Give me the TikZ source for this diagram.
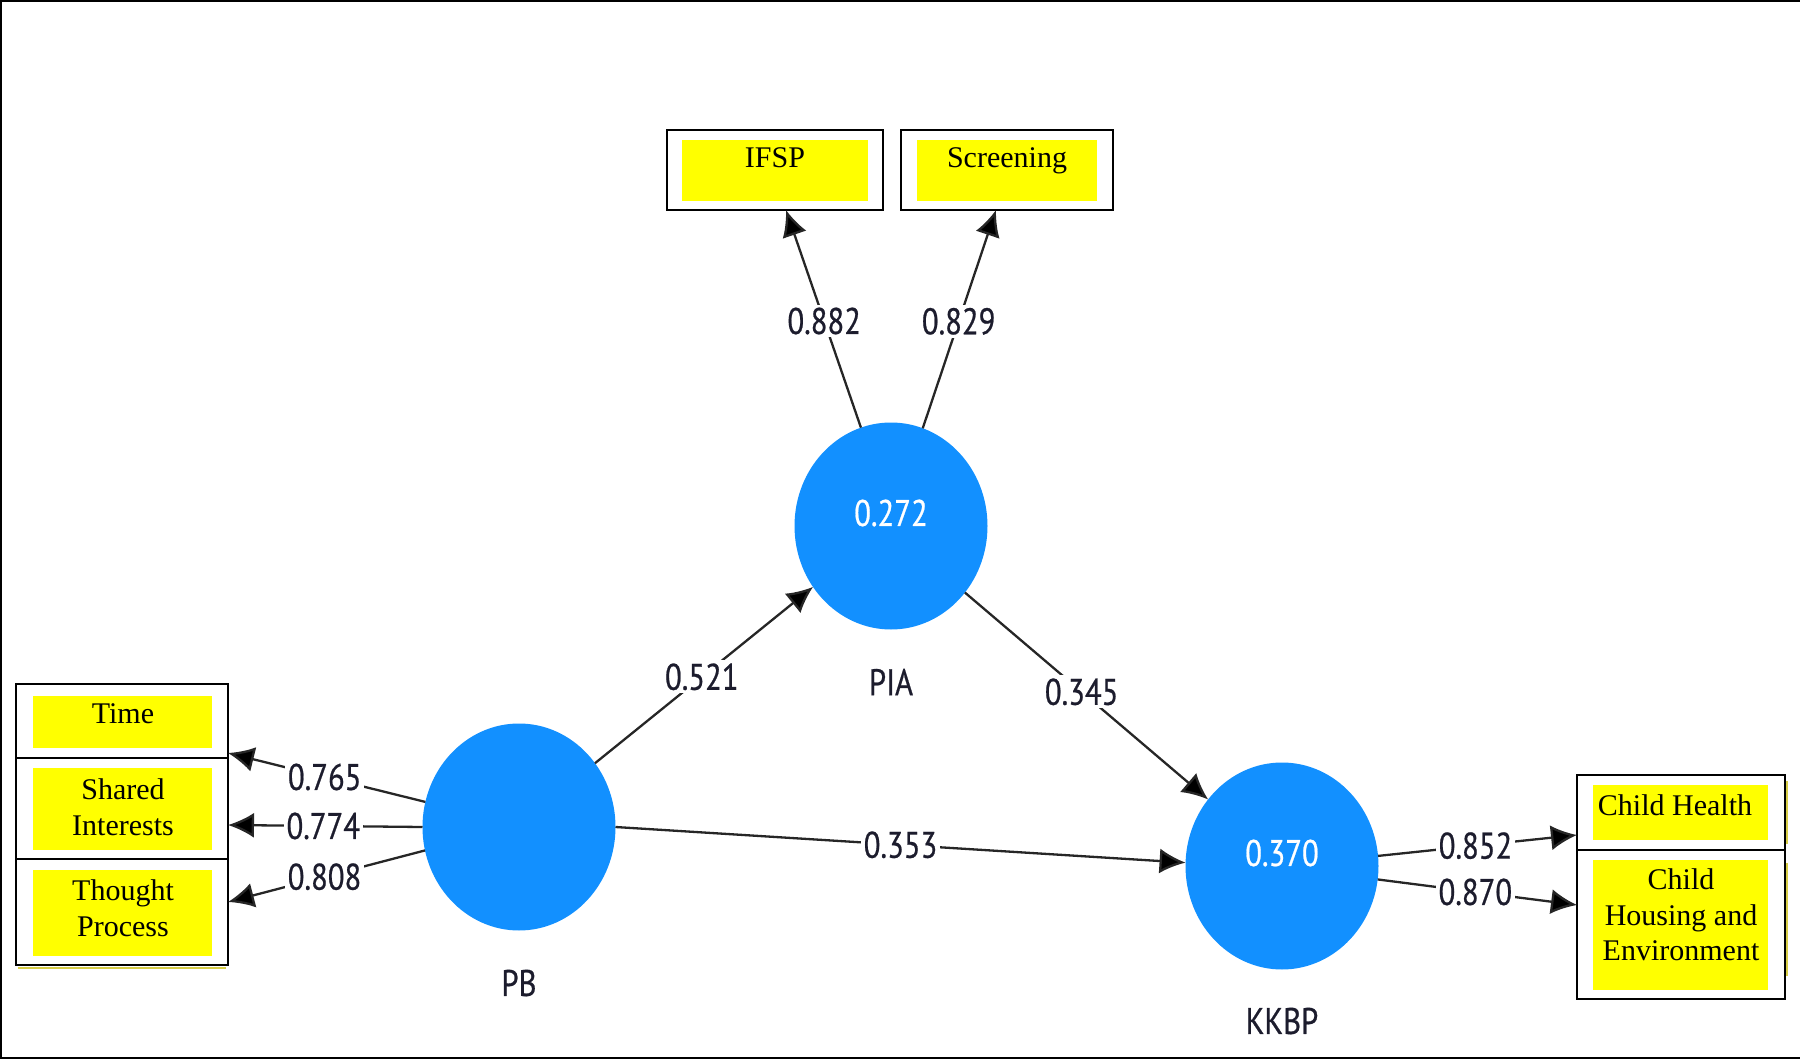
\documentclass[tikz,border=0pt]{standalone}
\usepackage{fontspec}
\setmainfont{Liberation Serif}
\newfontfamily\numfont[FakeStretch=0.83,FakeBold=0.6]{PT Sans}
\usetikzlibrary{shapes.geometric,arrows.meta}
\definecolor{lvblue}{RGB}{18,144,255}
\definecolor{boxyellow}{RGB}{255,255,0}
\definecolor{numcol}{RGB}{28,28,45}
\definecolor{edgeyellow}{RGB}{215,205,70}
\begin{document}
\begin{tikzpicture}[x=1pt,y=-1pt,
  latent/.style={ellipse, fill=lvblue, draw=none, minimum width=193pt, minimum height=207pt, inner sep=0pt, outer sep=0pt},
  lvval/.style={font=\numfont\fontsize{37}{42}\selectfont, text=white, inner sep=0pt},
  frame/.style={draw=black, line width=2.2pt, inner sep=0pt, outer sep=0pt},
  ybox/.style={fill=boxyellow, inner sep=0pt},
  btext/.style={font=\fontsize{30}{35.6}\selectfont, align=center, inner sep=0pt},
  coef/.style={font=\numfont\fontsize{37}{42}\selectfont, text=numcol, fill=white, inner sep=3pt},
  lvname/.style={font=\numfont\fontsize{37}{42}\selectfont, text=numcol, inner sep=0pt},
  link/.style={draw=black!85, line width=2.3pt, -{Latex[length=26pt,width=25pt,fill=black]}},
  strip/.style={draw=edgeyellow, line width=2pt}
]
\useasboundingbox (0,0) rectangle (1800,1059);
% outer frame
\draw[line width=2pt] (1800,1) -- (1,1) -- (1,1058) -- (1800,1058);

% latent variables
\node[latent] (PIA) at (891,526) {};
\node[latent] (PB) at (519,827) {};
\node[latent] (KKBP) at (1282,866) {};
\node[lvval] (PIAv) at (891,513) {0.272};
\node[lvval] (KKBPv) at (1282,853) {0.370};
\node[lvname] (PIAn) at (891,682) {PIA};
\node[lvname] (PBn) at (519,983) {PB};
\node[lvname] (KKBPn) at (1282,1021) {KKBP};

% top indicators
\node[frame, minimum width=216pt, minimum height=80pt] (IFSPf) at (775,170) {};
\node[ybox, minimum width=186pt, minimum height=61pt] (IFSPy) at (775,170.5) {};
\node[btext, anchor=base] (IFSPt) at (775,168) {IFSP};
\node[frame, minimum width=212pt, minimum height=80pt] (SCRf) at (1007,170) {};
\node[ybox, minimum width=180pt, minimum height=61pt] (SCRy) at (1007,170.5) {};
\node[btext, anchor=base] (SCRt) at (1007,168) {Screening};

% left indicators
\node[frame, minimum width=212pt, minimum height=74pt] (TIMf) at (122,721) {};
\node[frame, minimum width=212pt, minimum height=101pt] (SHAf) at (122,808.5) {};
\node[frame, minimum width=212pt, minimum height=106pt] (THOf) at (122,912) {};
\node[ybox, minimum width=179pt, minimum height=52pt] (TIMy) at (122.5,722) {};
\node[ybox, minimum width=179pt, minimum height=82pt] (SHAy) at (122.5,809) {};
\node[ybox, minimum width=179pt, minimum height=86pt] (THOy) at (122.5,913) {};
\node[btext, anchor=base] (TIMt) at (123,723) {Time};
\node[btext] (SHAt) at (123,807) {Shared\\Interests};
\node[btext] (THOt) at (123,908) {Thought\\Process};

% right indicators
\node[frame, minimum width=208pt, minimum height=75pt] (CHf) at (1681,812.5) {};
\node[frame, minimum width=208pt, minimum height=149pt] (CHEf) at (1681,924.5) {};
\node[ybox, minimum width=175pt, minimum height=55pt] (CHy) at (1680.5,812.5) {};
\node[ybox, minimum width=175pt, minimum height=130pt] (CHEy) at (1680.5,925) {};
\node[btext, anchor=base] (CHt) at (1675,815) {Child Health};
\node[btext] (CHEt) at (1681,915) {Child\\Housing and\\Environment};

% faint yellow edges
\draw[strip] (1787,781) -- (1787,844);
\draw[strip] (1787,863) -- (1787,976);
\draw[strip] (18,968) -- (226,968);

% structural paths
\draw[link] (PB.40) -- node[coef, pos=.49] (c521) {0.521} (PIA.218);
\draw[link] (PIA.318.6) -- node[coef, pos=.48] (c345) {0.345} (KKBP.138.7);
\draw[link] (PB.-0.7) -- node[coef, pos=.5] (c353) {0.353} (KKBP.178);

% outer loadings
\draw[link] (PIA.107.6) -- node[coef, pos=.49] (c882) {0.882} ([xshift=11pt]IFSPf.south);
\draw[link] (PIA.72.4) -- node[coef, pos=.49] (c829) {0.829} ([xshift=-11pt]SCRf.south);
\draw[link] (PB.165.6) -- node[coef, pos=.51] (c765) {0.765} ([yshift=-32pt]TIMf.east);
\draw[link] (PB.180) -- node[coef, pos=.51] (c774) {0.774} ([yshift=-16.5pt]SHAf.east);
\draw[link] (PB.194.4) -- node[coef, pos=.51] (c808) {0.808} ([yshift=10pt]THOf.east);
\draw[link] (KKBP.6.1) -- node[coef, pos=.49] (c852) {0.852} ([yshift=-22.5pt]CHf.west);
\draw[link] (KKBP.352.5) -- node[coef, pos=.49] (c870) {0.870} ([yshift=19.5pt]CHEf.west);
\end{tikzpicture}
\end{document}
